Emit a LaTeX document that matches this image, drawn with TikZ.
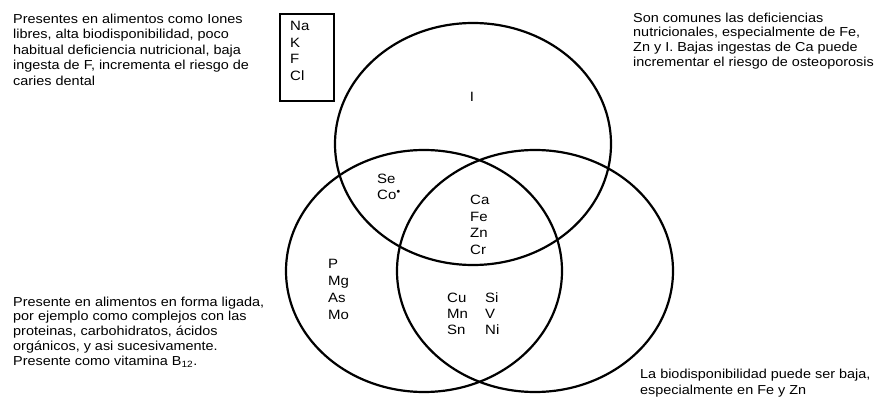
\documentclass[tikz,border=0pt]{standalone}
\usepackage{fontspec}
\setmainfont[FakeStretch=1.11]{Liberation Sans}
\usetikzlibrary{shapes.geometric}
\begin{document}
\begin{tikzpicture}[x=1pt,y=-1pt,
  venn/.style={draw, ellipse, line width=2.2pt, minimum width=276pt, minimum height=242pt, inner sep=0pt},
  desc/.style={align=left, anchor=north west, inner sep=0pt},
  elem/.style={align=left, anchor=north west, inner sep=0pt, font=\fontsize{13.5}{16.5}\selectfont}
]
\useasboundingbox (0,0) rectangle (875,398);
% circles
\node[venn] (top) at (473,144) {};
\node[venn] (left) at (424,271) {};
\node[venn] (right) at (535,271) {};
% box
\node[draw, line width=1.8pt, anchor=north west, minimum width=54pt, minimum height=87pt, inner sep=0pt] (box) at (279,13) {};
\node[elem] (nakfcl) at (290,21.5) {Na\\K\\F\\Cl};
% element labels
\node[inner sep=0pt, font=\fontsize{13.5}{16.5}\selectfont] (iod) at (472,97) {I};
\node[elem, font=\fontsize{13.5}{16}\selectfont] (seco) at (377,173.5) {Se\\Co$^{\scriptscriptstyle\bullet}$};
\node[elem] (cafe) at (470,195) {Ca\\Fe\\Zn\\Cr};
\node[elem, font=\fontsize{13.5}{17}\selectfont] (pmg) at (328,259.5) {P\\Mg\\As\\Mo};
\node[elem, font=\fontsize{13.5}{16}\selectfont] (cumn) at (447,293) {Cu\\Mn\\Sn};
\node[elem, font=\fontsize{13.5}{16}\selectfont] (siv) at (485,293) {Si\\V\\Ni};
% descriptions
\node[desc, font=\fontsize{13}{15.5}\selectfont] (tl) at (13,13.5) {Presentes en alimentos como Iones\\libres, alta biodisponibilidad, poco\\habitual deficiencia nutricional, baja\\ingesta de F, incrementa el riesgo de\\caries dental};
\node[desc, font=\fontsize{13}{14.8}\selectfont] (tr) at (633,12.5) {Son comunes las deficiencias\\nutricionales, especialmente de Fe,\\Zn y I. Bajas ingestas de Ca puede\\incrementar el riesgo de osteoporosis};
\node[desc, font=\fontsize{13}{14.8}\selectfont] (bl) at (13,296.5) {Presente en alimentos en forma ligada,\\por ejemplo como complejos con las\\proteinas, carbohidratos, ácidos\\orgánicos, y asi sucesivamente.\\Presente como vitamina B\textsubscript{12}.};
\node[desc, font=\fontsize{13}{16}\selectfont] (br) at (640,368.5) {La biodisponibilidad puede ser baja,\\especialmente en Fe y Zn};
\end{tikzpicture}
\end{document}
